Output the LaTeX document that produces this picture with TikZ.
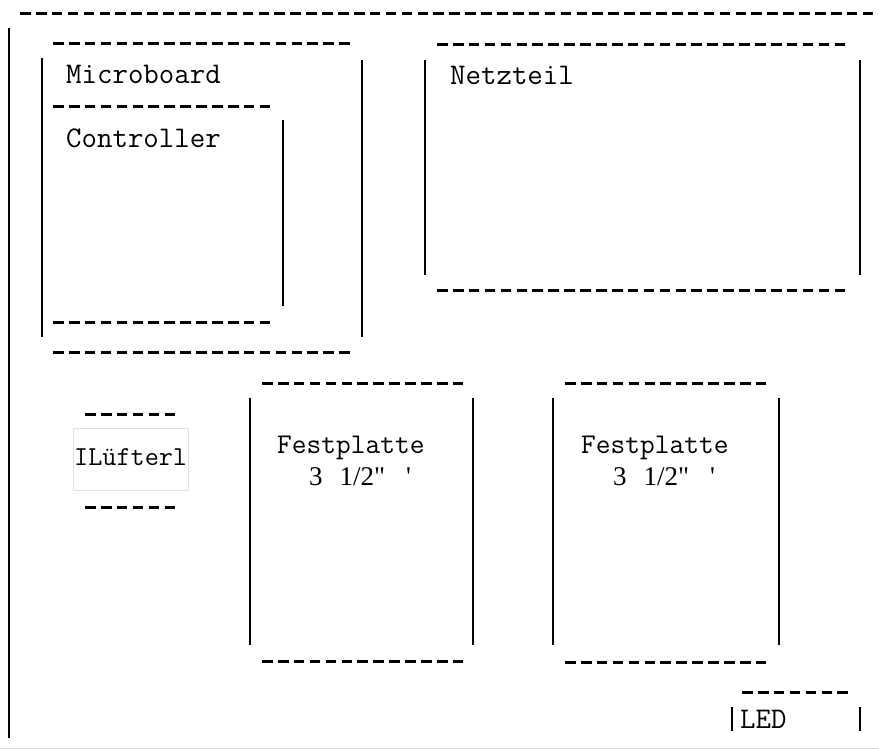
\documentclass[tikz,border=0pt]{standalone}
\usepackage{fontspec}
\setmainfont{Liberation Serif}
\newfontfamily\timesf[Ligatures=TeXOff]{Liberation Serif}
\begin{document}
\begin{tikzpicture}[x=1pt,y=-1pt,
  hd/.style={line width=3pt, dash pattern=on 10.6pt off 5.3pt},
  vb/.style={line width=1.8pt},
  faint/.style={line width=0.8pt, draw=black!12},
  lbl/.style={anchor=base west, inner sep=0pt, font=\ttfamily\fontsize{30}{30}\selectfont},
  lbls/.style={anchor=base west, inner sep=0pt, font=\ttfamily\fontsize{28.6}{29}\selectfont},
  nums/.style={anchor=base west, inner sep=0pt, font=\timesf\fontsize{27}{27}\selectfont}]
\useasboundingbox (0,0) rectangle (879,750);
% outer frame
\draw[hd] (20,13) -- (879,13);
\draw[vb] (9,28) -- (9,738);
\draw[faint] (0,748) -- (879,748);
% Microboard
\draw[hd] (53,43) -- (349.8,43);
\draw[hd] (53,352) -- (349.8,352);
\draw[vb] (42,58) -- (42,337);
\draw[vb] (362,60) -- (362,337);
\node[lbl] (micro) at (66,83) {Microboard};
% Controller
\draw[hd] (53,106) -- (270.3,106);
\draw[hd] (53,322) -- (270.3,322);
\draw[vb] (283,120) -- (283,306);
\node[lbl] (ctrl) at (66,147) {Controller};
% Netzteil
\draw[hd] (437,44) -- (845.1,44);
\draw[hd] (437,290) -- (845.1,290);
\draw[vb] (425,60) -- (425,275);
\draw[vb] (860,60) -- (860,275);
\node[lbl] (netz) at (450,84) {Netzteil};
% Luefterl
\draw[faint] (73,428) rectangle (188,490);
\draw[hd] (85,414) -- (175.1,414);
\draw[hd] (85,507) -- (175.1,507);
\node[lbls, font=\ttfamily\fontsize{27.4}{28}\selectfont] (luef) at (74,465) {ILüfterl};
% Festplatte 1
\draw[hd] (262,383) -- (463.4,383);
\draw[hd] (262,661) -- (463.4,661);
\draw[vb] (250,398) -- (250,645);
\draw[vb] (473,398) -- (473,645);
\node[lbls] (fp1) at (277,453) {Festplatte};
\node[nums] (fp1s) at (309,485) {3\hspace{17pt}1/2"\hspace{21pt}'};
% Festplatte 2
\draw[hd] (565,383) -- (766.4,383);
\draw[hd] (565,662) -- (766.4,662);
\draw[vb] (553,398) -- (553,645);
\draw[vb] (779,398) -- (779,645);
\node[lbls] (fp2) at (581,453) {Festplatte};
\node[nums] (fp2s) at (613,485) {3\hspace{17pt}1/2"\hspace{21pt}'};
% LED
\draw[hd] (742,692) -- (848,692);
\draw[vb] (732,707) -- (732,731);
\draw[vb] (860,707) -- (860,731);
\node[lbl] (led) at (740,728) {LED};
\end{tikzpicture}
\end{document}
